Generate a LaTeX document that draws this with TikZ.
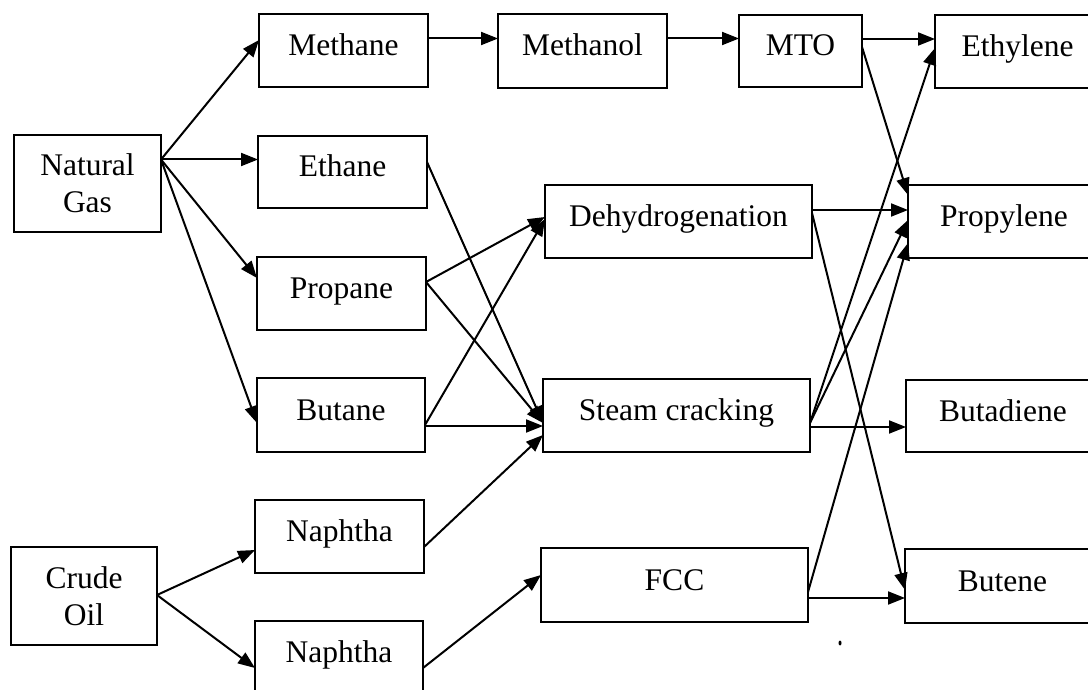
\documentclass[tikz,border=0pt]{standalone}
\usepackage{fontspec}
\setmainfont{Liberation Serif}
\usetikzlibrary{arrows.meta}
\begin{document}
\begin{tikzpicture}[x=1pt,y=-1pt,
  box/.style={draw, line width=2pt, inner sep=0pt, outer sep=0pt, align=center,
    font=\fontsize{31.5}{37}\selectfont},
  one/.style={box, text height=10pt, text depth=0pt},
  arr/.style={line width=2pt, -{Triangle[length=17pt,width=13pt]}}]
\useasboundingbox (0,0) rectangle (1088,690);
% sources
\node[box, minimum width=147pt, minimum height=97pt] (ng) at (87.5,183.5) {Natural\\Gas};
\node[box, minimum width=146pt, minimum height=98pt] (crude) at (84,596) {Crude\\Oil};
% feedstocks
\node[one, minimum width=169pt, minimum height=73pt] (methane) at (343.5,50.5) {Methane};
\node[one, minimum width=169pt, minimum height=72pt] (ethane) at (342.5,172) {Ethane};
\node[one, minimum width=169pt, minimum height=73pt] (propane) at (341.5,293.5) {Propane};
\node[one, minimum width=168pt, minimum height=74pt] (butane) at (341,415) {Butane};
\node[one, minimum width=169pt, minimum height=73pt] (naph1) at (339.5,536.5) {Naphtha};
\node[one, minimum width=168pt, minimum height=73pt] (naph2) at (339,657.5) {Naphtha};
% processes
\node[one, minimum width=169pt, minimum height=74pt] (methanol) at (582.5,51) {Methanol};
\node[one, minimum width=123pt, minimum height=72pt] (mto) at (800.5,51) {MTO};
\node[one, minimum width=267pt, minimum height=73pt] (dehyd) at (678.5,221.5) {Dehydrogenation};
\node[one, minimum width=267pt, minimum height=73pt] (sc) at (676.5,415.5) {Steam cracking};
\node[one, minimum width=267pt, minimum height=74pt] (fcc) at (674.5,585) {FCC};
% products
\node[one, minimum width=165pt, minimum height=73pt] (ethylene) at (1017.5,51.5) {Ethylene};
\node[one, minimum width=192pt, minimum height=73pt] (propylene) at (1004,221.5) {Propylene};
\node[one, minimum width=194pt, minimum height=72pt] (butadiene) at (1003,416) {Butadiene};
\node[one, minimum width=195pt, minimum height=74pt] (butene) at (1002.5,586) {Butene};
% connectors
\draw[arr] ([yshift=24pt]ng.east) -- ([yshift=10.5pt]methane.west);
\draw[arr] ([yshift=24pt]ng.east) -- ([yshift=12.5pt]ethane.west);
\draw[arr] ([yshift=24pt]ng.east) -- ([yshift=15.5pt]propane.west);
\draw[arr] ([yshift=24pt]ng.east) -- ([yshift=-8pt]butane.west);
\draw[arr] ([yshift=12pt]methane.east) -- ([yshift=12.5pt]methanol.west);
\draw[arr] ([yshift=12.5pt]methanol.east) -- ([yshift=12.5pt]mto.west);
\draw[arr] ([yshift=12pt]mto.east) -- ([yshift=12.5pt]ethylene.west);
\draw[arr] ([yshift=4pt]mto.east) -- ([yshift=26.5pt]propylene.west);
\draw[arr] ([yshift=10pt]ethane.east) -- ([yshift=-7.5pt]sc.west);
\draw[arr] ([yshift=11.5pt]propane.east) -- ([yshift=4.5pt]dehyd.west);
\draw[arr] ([yshift=11.5pt]propane.east) -- ([yshift=-7.5pt]sc.west);
\draw[arr] ([yshift=-10pt]butane.east) -- ([yshift=2.5pt]dehyd.west);
\draw[arr] ([yshift=-11pt]butane.east) -- ([yshift=-10.5pt]sc.west);
\draw[arr] ([yshift=-10.5pt]naph1.east) -- ([yshift=-19.5pt]sc.west);
\draw[arr] ([yshift=1pt]crude.east) -- ([yshift=-13.5pt]naph1.west);
\draw[arr] ([yshift=1pt]crude.east) -- ([yshift=-10.5pt]naph2.west);
\draw[arr] ([yshift=-10.5pt]naph2.east) -- ([yshift=10pt]fcc.west);
\draw[arr] ([yshift=11.5pt]dehyd.east) -- ([yshift=11.5pt]propylene.west);
\draw[arr] ([yshift=8.5pt]dehyd.east) -- ([yshift=-4pt]butene.west);
\draw[arr] ([yshift=-7.5pt]sc.east) -- ([yshift=3.5pt]ethylene.west);
\draw[arr] ([yshift=-7.5pt]sc.east) -- ([yshift=1.5pt]propylene.west);
\draw[arr] ([yshift=-11.5pt]sc.east) -- ([yshift=-11pt]butadiene.west);
\draw[arr] ([yshift=-7pt]fcc.east) -- ([yshift=-21.5pt]propylene.west);
\draw[arr] ([yshift=-13pt]fcc.east) -- ([yshift=-12pt]butene.west);
% stray mark
\fill (840,643) ellipse (1.5pt and 2.5pt);
\end{tikzpicture}
\end{document}
